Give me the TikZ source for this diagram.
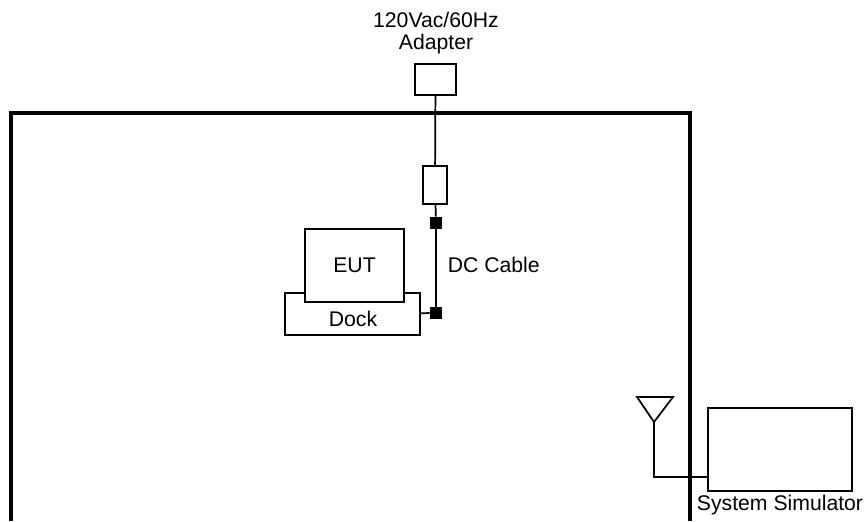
\documentclass[tikz,border=0pt]{standalone}
\usepackage{fontspec}
\setmainfont{Liberation Sans}
\begin{document}
\begin{tikzpicture}[x=0.75pt,y=-0.75pt,line width=1.3pt,
  font=\fontsize{15.9}{16.5}\selectfont,
  box/.style={draw,fill=white,inner sep=0pt},
  dot/.style={draw,fill=black,inner sep=0pt,minimum size=8.25pt}]
\useasboundingbox (0,0) rectangle (867,521);
\draw[line width=3pt] (11,521) -- (11,113) -- (690,113) -- (690,521);
\node[align=center] (adlbl) at (436,33) {120Vac/60Hz\\Adapter};
\node[box,minimum width=30.75pt,minimum height=23.25pt] (adapter) at (435.5,79.5) {};
\node[box,minimum width=18pt,minimum height=28.5pt] (filter) at (435,185) {};
\node[dot] (jA) at (436,223) {};
\node[dot] (jB) at (436,313) {};
\node[box,minimum width=101.25pt,minimum height=31.5pt] (dock) at (352.5,314) {};
\node[box,minimum width=74.25pt,minimum height=54.75pt] (eut) at (354.5,265.5) {EUT};
\node (docklbl) at (353,319) {Dock};
\node[anchor=west,inner sep=0pt] (cable) at (447,265) {DC Cable};
\draw (adapter) -- (filter);
\draw (filter) -- (jA);
\draw (jA) -- (jB);
\draw (dock) -- (jB);
% antenna and simulator
\coordinate (ant) at (654,422);
\coordinate (feed) at (654,477);
\draw (637,397) -- (673,397) -- (ant) -- cycle;
\node[box,minimum width=108pt,minimum height=62.25pt] (sim) at (780,449.5) {};
\node (simlbl) at (780,505) {System Simulator};
\draw (ant) -- (feed) -- (feed -| sim.west);
\end{tikzpicture}
\end{document}
